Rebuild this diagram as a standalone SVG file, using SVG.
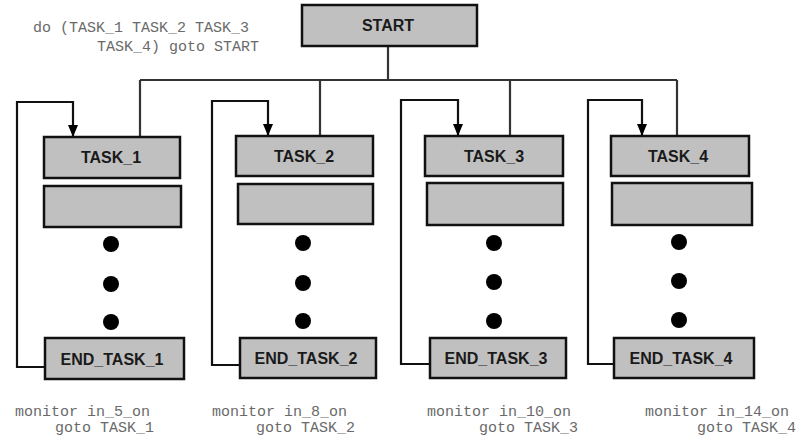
<svg xmlns="http://www.w3.org/2000/svg" width="798" height="436" viewBox="0 0 798 436">
  <style>
    .box { fill: #c0c0c0; stroke: #111; stroke-width: 2.5; }
    .lbl { font-family: "Liberation Sans", Arial, sans-serif; font-weight: bold; font-size: 16px; fill: #1a1a1a; text-anchor: middle; }
    .code { font-family: "Liberation Mono", "Courier New", monospace; font-size: 15px; fill: #6a6a6a; }
    .bus { fill: none; stroke: #333; stroke-width: 2.2; }
    .loop { fill: none; stroke: #111; stroke-width: 2.2; }
    .dot { fill: #000; }
  </style>
  <defs>
    <!-- filled arrowhead, drawn along +x so orient="auto" points it down the line -->
    <marker id="arrow" markerUnits="userSpaceOnUse" markerWidth="12" markerHeight="10" refX="12" refY="5" orient="auto" viewBox="0 0 12 10">
      <path d="M0,0 L12,5 L0,10 Z" fill="#000"/>
    </marker>
  </defs>
  <rect width="798" height="436" fill="#fff"/>

  <!-- program text -->
  <text class="code" x="33" y="32">do (TASK_1 TASK_2 TASK_3</text>
  <text class="code" x="97" y="51">TASK_4) goto START</text>

  <!-- connectors -->
  <g id="connectors">
    <path class="bus" d="M388,46 V80 M140,80 H677 M140,80 V137 M320,80 V136 M510,80 V136 M677,80 V136"/>
    <path class="loop" d="M45,367 H17 V102 H73 V137" marker-end="url(#arrow)"/>
    <path class="loop" d="M240,365 H212 V101 H268 V136" marker-end="url(#arrow)"/>
    <path class="loop" d="M430,364 H401 V100 H458 V136" marker-end="url(#arrow)"/>
    <path class="loop" d="M614,364 H588 V100 H642 V136" marker-end="url(#arrow)"/>
  </g>

  <g id="start">
    <rect class="box" x="302" y="5" width="175" height="41"/>
    <text class="lbl" x="388" y="31">START</text>
  </g>

  <g id="task1">
    <rect class="box" x="44" y="137" width="136" height="41"/>
    <text class="lbl" x="111" y="163">TASK_1</text>
    <rect class="box" x="44" y="186" width="137" height="41"/>
    <circle class="dot" cx="111" cy="244" r="8"/>
    <circle class="dot" cx="111" cy="284" r="8"/>
    <circle class="dot" cx="111" cy="322" r="8"/>
  </g>
  <g id="end_task1">
    <rect class="box" x="45" y="338" width="139" height="41"/>
    <text class="lbl" x="112" y="365">END_TASK_1</text>
  </g>

  <g id="task2">
    <rect class="box" x="236" y="136" width="137" height="40"/>
    <text class="lbl" x="304" y="162">TASK_2</text>
    <rect class="box" x="238" y="184" width="135" height="40"/>
    <circle class="dot" cx="303" cy="243" r="8"/>
    <circle class="dot" cx="303" cy="283" r="8"/>
    <circle class="dot" cx="303" cy="321" r="8"/>
  </g>
  <g id="end_task2">
    <rect class="box" x="240" y="338" width="136" height="40"/>
    <text class="lbl" x="306" y="364">END_TASK_2</text>
  </g>

  <g id="task3">
    <rect class="box" x="425" y="136" width="138" height="40"/>
    <text class="lbl" x="494" y="162">TASK_3</text>
    <rect class="box" x="427" y="183" width="136" height="42"/>
    <circle class="dot" cx="494" cy="243" r="8"/>
    <circle class="dot" cx="494" cy="282" r="8"/>
    <circle class="dot" cx="494" cy="321" r="8"/>
  </g>
  <g id="end_task3">
    <rect class="box" x="430" y="338" width="136" height="40"/>
    <text class="lbl" x="496" y="364">END_TASK_3</text>
  </g>

  <g id="task4">
    <rect class="box" x="611" y="136" width="138" height="40"/>
    <text class="lbl" x="678" y="162">TASK_4</text>
    <rect class="box" x="612" y="183" width="140" height="42"/>
    <circle class="dot" cx="679" cy="242" r="8"/>
    <circle class="dot" cx="679" cy="281" r="8"/>
    <circle class="dot" cx="679" cy="320" r="8"/>
  </g>
  <g id="end_task4">
    <rect class="box" x="614" y="338" width="140" height="40"/>
    <text class="lbl" x="681" y="364">END_TASK_4</text>
  </g>

  <!-- monitor conditions -->
  <text class="code" x="15" y="416">monitor in_5_on</text>
  <text class="code" x="55" y="432">goto TASK_1</text>
  <text class="code" x="212" y="416">monitor in_8_on</text>
  <text class="code" x="256" y="432">goto TASK_2</text>
  <text class="code" x="427" y="416">monitor in_10_on</text>
  <text class="code" x="479" y="432">goto TASK_3</text>
  <text class="code" x="645" y="416">monitor in_14_on</text>
  <text class="code" x="697" y="432">goto TASK_4</text>
</svg>
